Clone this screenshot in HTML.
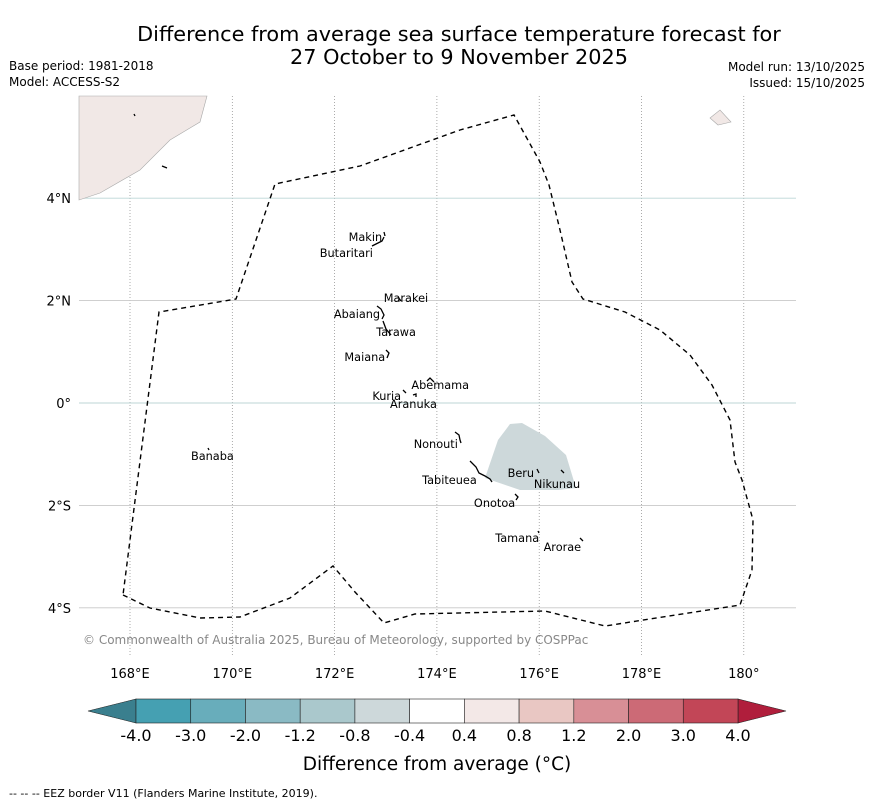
<!DOCTYPE html>
<html><head><meta charset="utf-8"><style>
body{margin:0;background:#fff;width:873px;height:804px;overflow:hidden;font-family:"DejaVu Sans","Liberation Sans",sans-serif}
svg text{font-family:"DejaVu Sans","Liberation Sans",sans-serif}
</style></head><body>
<svg width="873" height="804">
<text x="459" y="41" font-size="20.8" text-anchor="middle">Difference from average sea surface temperature forecast for</text>
<text x="459" y="64" font-size="20.8" text-anchor="middle">27 October to 9 November 2025</text>
<text x="9" y="70" font-size="12">Base period: 1981-2018</text>
<text x="9" y="86" font-size="12">Model: ACCESS-S2</text>
<text x="865" y="71" font-size="12" text-anchor="end">Model run: 13/10/2025</text>
<text x="865" y="87" font-size="12" text-anchor="end">Issued: 15/10/2025</text>
<g id="grid"></g>
<polygon points="79,96 207,96 200,122 170,140 140,170 100,193 79,200" fill="#f1e8e6" stroke="#aaa" stroke-width="0.6"/>
<polygon points="710,118 720,110 731,122 718,125" fill="#f1e8e6" stroke="#aaa" stroke-width="0.6"/>
<polygon points="485,478 498,440 510,424 522,423 545,436 566,455 576,488 558,490 520,490" fill="#cdd8da"/>
<polyline points="123,595 150,608 200,618 240,617 290,598 333,566 355,592 384,623 415,614 545,611 605,626 740,605 752,570 753,520 742,480 735,462 730,420 712,385 690,355 660,330 625,312 583,299 572,282 560,230 549,185 540,162 514,115 460,130 360,166 275,184 236,299 159,312 123,595" fill="none" stroke="#000" stroke-width="1.4" stroke-dasharray="5,4"/>
<g fill="none" stroke="#000" stroke-width="1.3">
<path d="M384,232 l1,4 M372,246 l6,-3 l4,-2 l2,-4"/>
<path d="M398,297 l3,4"/>
<path d="M377,306 l4,3 l3,6 l-2,4 M383,321 l3,8 l5,6"/>
<path d="M386,350 l3,3 l-2,5"/>
<path d="M427,381 l3,-3 l4,4"/>
<path d="M403,390 l3,3 M413,395 l3,-1 l0,3"/>
<path d="M455,432 l4,3 l1,5 l1,3"/>
<path d="M470,461 l6,6 l3,6 l6,3 l5,3 l2,3"/>
<path d="M537,469 l2,4 M561,470 l3,3"/>
<path d="M515,494 l3,3 l-2,3"/>
<path d="M538,531 l1,2 M580,538 l3,3"/>
<path d="M208,448 l1,2"/>
<path d="M134,114 l1,2 M162,166 l5,2"/>
</g>
<g id="islands" font-size="11.3"></g>
<text x="83" y="644" font-size="12" fill="#888">© Commonwealth of Australia 2025, Bureau of Meteorology, supported by COSPPac</text>
<g id="cbar"></g>
<text x="437" y="770" font-size="18.5" text-anchor="middle">Difference from average (°C)</text>
<text x="9" y="797" font-size="11">-- -- -- EEZ border V11 (Flanders Marine Institute, 2019).</text>
</svg>
<script>
const NS="http://www.w3.org/2000/svg";
const lonTicks=[168,170,172,174,176,178,180];
const lonLabels=["168°E","170°E","172°E","174°E","176°E","178°E","180°"];
const latTicks=[4,2,0,-2,-4];
const latLabels=["4°N","2°N","0°","2°S","4°S"];
const cbLevels=["-4.0","-3.0","-2.0","-1.2","-0.8","-0.4","0.4","0.8","1.2","2.0","3.0","4.0"];
const cbColors=["#45a0b2","#68adbb","#8abac4","#aac8cc","#cdd8da","#ffffff","#f3e8e7","#e9c7c3","#d88f96","#cc6a76","#c24657"];
const islandNames=["Makin","Butaritari","Marakei","Abaiang","Tarawa","Maiana","Abemama","Kuria","Aranuka","Nonouti","Tabiteuea","Beru","Nikunau","Onotoa","Tamana","Arorae","Banaba"];
const islandLon=[172.93,172.75,173.83,172.89,173.59,172.99,174.63,173.30,174.00,174.41,174.78,175.90,176.80,175.53,176.00,176.82,170.03];
const islandLat=[3.16,2.85,1.97,1.66,1.31,0.82,0.27,0.06,-0.10,-0.88,-1.58,-1.45,-1.66,-2.03,-2.71,-2.89,-1.11];
function xs(l){return 130+(l-168)*51.15;}
function ys(l){return 403-l*51.2;}
function mk(t,a,p){const e=document.createElementNS(NS,t);for(const k in a)e.setAttribute(k,a[k]);(p||document.querySelector('svg')).appendChild(e);return e;}
const g=document.getElementById('grid');
lonTicks.forEach((v,i)=>{
 const l=mk('line',{x1:xs(v),x2:xs(v),y1:96,y2:655,stroke:'#888','stroke-width':0.7,'stroke-dasharray':'1,2'},g);
 
 
 const t=mk('text',{x:xs(v),y:678,'font-size':13,'text-anchor':'middle'},g);t.textContent=lonLabels[i];
 
 
});
latTicks.forEach((v,i)=>{
 const l=mk('line',{x1:79,x2:796,y1:ys(v),y2:ys(v),stroke:(v%4===0&&v>=0)?'#bcd6d6':'#c8c8c8','stroke-width':0.9},g);
 
 
 const t=mk('text',{x:71,y:ys(v)+5,'font-size':13,'text-anchor':'end'},g);t.textContent=latLabels[i];
 
 
});
const ig=document.getElementById('islands');
islandNames.forEach((n,i)=>{
 const t=mk('text',{x:xs(islandLon[i]),y:ys(islandLat[i]),'text-anchor':'end'},ig);t.textContent=n;
 
 
});
const cb=document.getElementById('cbar');
const x0=136,x1=738,w=(x1-x0)/cbColors.length;
const lt=mk('polygon',{points:`88,711 ${x0},699 ${x0},723`,fill:'#3a7f8e',stroke:'#222','stroke-width':0.6},cb);


const rt=mk('polygon',{points:`786,711 ${x1},699 ${x1},723`,fill:'#b01e3c',stroke:'#222','stroke-width':0.6},cb);


cbColors.forEach((c,i)=>{
 const r=mk('rect',{x:x0+i*w,y:699,width:w,height:24,fill:c,stroke:'#222','stroke-width':0.6},cb);
 
 
});
cbLevels.forEach((s,i)=>{
 const t=mk('text',{x:x0+i*w,y:741,'font-size':16,'text-anchor':'middle'},cb);t.textContent=s;
 
 
});
</script>
</body></html>
